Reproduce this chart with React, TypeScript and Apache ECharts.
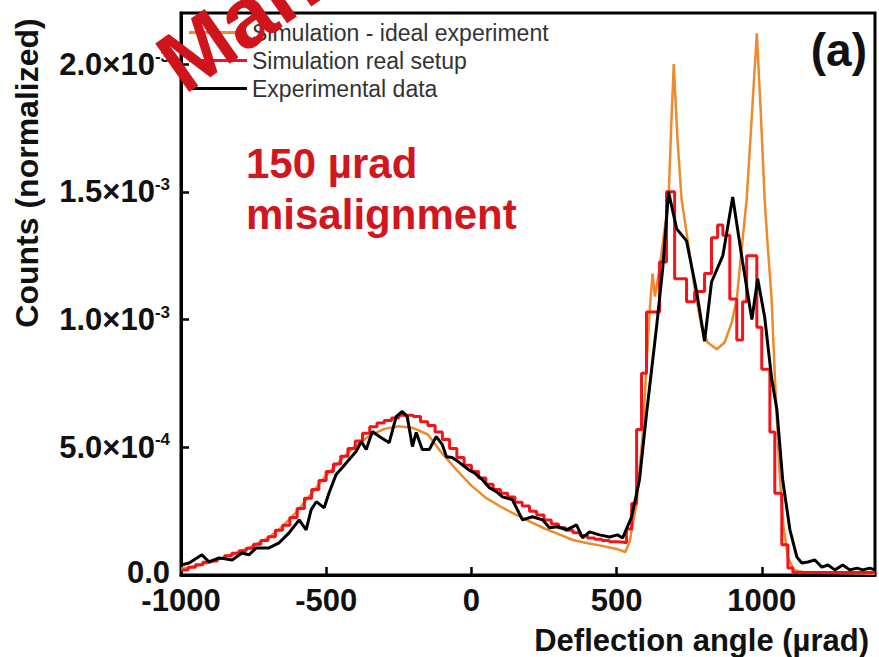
import React, { useEffect, useRef } from 'react';
import * as echarts from 'echarts';

const FONT = '"Liberation Sans", Arial, Helvetica, sans-serif';
const Y_UNIT = 1e-4;

const seriesNames = ['Simulation - ideal experiment', 'Simulation real setup', 'Experimental data'];
const seriesColors = ['#ee8a2c', '#f2141a', '#000000'];

const xTickValues = [-1000, -500, 0, 500, 1000];
const yTickValues = [0, 5e-4, 1e-3, 1.5e-3, 2e-3];
const yTickMantissa = ['0.0', '5.0', '1.0', '1.5', '2.0'];
const yTickExponent = ['', '-4', '-3', '-3', '-3'];

// [deflection angle (µrad), counts in units of 1e-4]
const idealCurve: number[][] = [
  [-1000, 0.25], [-950, 0.35], [-900, 0.5], [-850, 0.7], [-800, 0.9], [-750, 1.15], [-700, 1.45],
  [-650, 1.9], [-600, 2.5], [-550, 3.2], [-500, 3.9], [-450, 4.5], [-400, 5.05], [-350, 5.45],
  [-300, 5.72], [-250, 5.82], [-200, 5.75], [-150, 5.5], [-100, 4.75], [-50, 4.1], [0, 3.5],
  [50, 3.02], [100, 2.68], [150, 2.38], [200, 2.1], [250, 1.83], [300, 1.6], [350, 1.37],
  [400, 1.24], [450, 1.14], [500, 1.02], [530, 0.9], [545, 1.3], [569, 2.8], [590, 5.5],
  [603, 8.2], [615, 10.5], [624, 11.8], [632, 10.9], [648, 12.0], [665, 13.5], [679, 14.7],
  [688, 17.5], [697, 20.0], [710, 17.0], [724, 14.7], [741, 13.4], [769, 11.2], [793, 9.7],
  [814, 9.1], [845, 8.84], [872, 9.1], [897, 9.9], [914, 10.8], [931, 12.8], [948, 14.7],
  [966, 18.0], [983, 21.2], [997, 18.0], [1010, 14.7], [1021, 12.8], [1034, 10.8], [1045, 7.8],
  [1060, 4.2], [1075, 1.9], [1090, 0.7], [1110, 0.2], [1150, 0.1], [1390, 0.05],
];

const realSetupHist: number[][] = [
  [-1000, 0.2], [-975, 0.3], [-950, 0.4], [-925, 0.5], [-900, 0.55], [-875, 0.65], [-850, 0.75],
  [-825, 0.85], [-800, 0.95], [-775, 1.05], [-750, 1.2], [-725, 1.35], [-700, 1.5], [-675, 1.75],
  [-650, 1.95], [-625, 2.25], [-600, 2.6], [-575, 3.0], [-550, 3.35], [-525, 3.7], [-500, 4.05],
  [-475, 4.35], [-450, 4.65], [-425, 4.95], [-400, 5.25], [-375, 5.55], [-350, 5.8], [-325, 5.95],
  [-300, 6.05], [-275, 6.15], [-250, 6.25], [-225, 6.25], [-200, 6.2], [-175, 6.0], [-150, 5.85],
  [-125, 5.6], [-100, 5.3], [-75, 4.95], [-50, 4.6], [-25, 4.3], [0, 4.05], [25, 3.8], [50, 3.55],
  [75, 3.35], [100, 3.2], [125, 3.05], [150, 2.85], [175, 2.7], [200, 2.5], [225, 2.35],
  [250, 2.15], [275, 2.0], [300, 1.85], [325, 1.75], [350, 1.65], [375, 1.55], [400, 1.45],
  [425, 1.4], [450, 1.35], [475, 1.3], [500, 1.28], [525, 1.26], [534, 1.8], [552, 2.8],
  [569, 5.7], [586, 7.9], [603, 10.3], [648, 12.25], [672, 15.0], [700, 11.6], [741, 10.7],
  [769, 11.1], [803, 11.8], [827, 13.2], [848, 13.7], [866, 13.3], [890, 10.8], [914, 9.2],
  [934, 10.7], [948, 12.5], [983, 9.7], [1000, 8.05], [1028, 5.6], [1045, 3.2], [1069, 1.18],
  [1090, 0.27], [1107, 0.1], [1390, 0.1],
];

const experimentalData: number[][] = [
  [-1000, 0.39], [-972, 0.47], [-928, 0.79], [-903, 0.51], [-869, 0.67], [-824, 0.59], [-790, 0.86],
  [-766, 0.79], [-741, 1.06], [-697, 1.06], [-662, 1.26], [-628, 1.65], [-593, 2.16], [-569, 1.77],
  [-552, 2.55], [-534, 2.87], [-507, 2.63], [-490, 3.22], [-466, 3.93], [-445, 4.2], [-421, 4.52],
  [-397, 4.83], [-379, 5.22], [-362, 4.91], [-341, 5.62], [-317, 5.42], [-283, 5.18], [-259, 6.2],
  [-238, 6.4], [-221, 6.2], [-203, 5.03], [-190, 5.58], [-169, 4.91], [-145, 4.91], [-121, 5.42],
  [-100, 5.1], [-86, 4.63], [-66, 4.6], [-41, 4.4], [-7, 4.1], [10, 4.0], [38, 3.73], [62, 3.42],
  [86, 3.26], [107, 3.06], [141, 2.95], [176, 2.16], [210, 2.28], [245, 2.16], [269, 1.85],
  [297, 1.89], [328, 1.77], [362, 1.96], [383, 1.45], [407, 1.69], [441, 1.57], [476, 1.49],
  [503, 1.57], [521, 1.45], [552, 2.28], [579, 3.73], [603, 6.3], [638, 9.74], [659, 12.0],
  [679, 15.0], [707, 13.55], [741, 13.08], [776, 11.08], [803, 9.15], [827, 11.47], [866, 12.5],
  [900, 14.8], [934, 12.25], [966, 10.0], [986, 11.6], [1010, 10.1], [1034, 7.7], [1052, 6.48],
  [1072, 3.73], [1097, 1.77], [1121, 0.7], [1138, 0.47], [1159, 0.51], [1183, 0.59], [1207, 0.31],
  [1228, 0.39], [1252, 0.2], [1279, 0.39], [1303, 0.2], [1328, 0.27], [1348, 0.2], [1372, 0.27],
  [1390, 0.2],
];

const toCounts = (arr: number[][]) => arr.map(([x, y]) => [x, y * Y_UNIT]);

export default function App() {
  const ref = useRef<HTMLDivElement>(null);
  useEffect(() => {
    if (!ref.current) return;
    const chart = echarts.init(ref.current, null, { renderer: 'svg' });
    const option: any = {
      animation: false,
      backgroundColor: '#ffffff',
      textStyle: { fontFamily: FONT },
      grid: {
        left: 181, right: 4, top: 13, bottom: 82,
        show: true, borderColor: '#000', borderWidth: 3, backgroundColor: 'transparent',
      },
      legend: {
        orient: 'vertical', left: 184, top: 16, itemWidth: 58, itemHeight: 3, itemGap: 5,
        icon: 'rect',
        data: seriesNames,
        textStyle: { fontSize: 23, color: '#333', fontFamily: FONT },
      },
      xAxis: {
        type: 'value', min: -1000, max: 1390, interval: 500,
        axisLine: { onZero: false, lineStyle: { color: '#000', width: 3 } },
        axisTick: { inside: true, length: 8, lineStyle: { color: '#000', width: 2.5 } },
        splitLine: { show: false },
        axisLabel: {
          margin: 10, fontSize: 31, fontWeight: 'bold', color: '#111', fontFamily: FONT,
          showMaxLabel: false,
          formatter: (v: number) => (xTickValues.includes(v) ? String(v) : ''),
        },
      },
      yAxis: {
        type: 'value', min: 0, max: 2.2e-3, interval: 5e-4,
        axisLine: { show: true, onZero: false, lineStyle: { color: '#000', width: 3 } },
        axisTick: { show: true, inside: true, length: 8, lineStyle: { color: '#000', width: 2.5 } },
        splitLine: { show: false },
        axisLabel: {
          margin: 11, showMaxLabel: false,
          formatter: (v: number) => {
            const i = yTickValues.findIndex((t) => Math.abs(t - v) < 1e-9);
            if (i < 0) return '';
            return yTickExponent[i]
              ? `{m|${yTickMantissa[i]}×10}{e|${yTickExponent[i]}}`
              : `{z|${yTickMantissa[i]}}`;
          },
          rich: {
            m: { fontSize: 31, fontWeight: 'bold', color: '#111', fontFamily: FONT },
            z: { fontSize: 31, fontWeight: 'bold', color: '#111', fontFamily: FONT, padding: [0, 0, 5, 0] },
            e: { fontSize: 17, fontWeight: 'bold', color: '#111', fontFamily: FONT, verticalAlign: 'top', padding: [0, 0, 15, 0] },
          },
        },
      },
      series: [
        {
          name: seriesNames[0], type: 'line', data: toCounts(idealCurve), showSymbol: false, symbol: 'none',
          lineStyle: { color: seriesColors[0], width: 2.5 }, itemStyle: { color: seriesColors[0] }, z: 2,
        },
        {
          name: seriesNames[1], type: 'line', step: 'end', data: toCounts(realSetupHist), showSymbol: false, symbol: 'none',
          lineStyle: { color: seriesColors[1], width: 3 }, itemStyle: { color: seriesColors[1] }, z: 3,
        },
        {
          name: seriesNames[2], type: 'line', data: toCounts(experimentalData), showSymbol: false, symbol: 'none',
          lineStyle: { color: seriesColors[2], width: 3 }, itemStyle: { color: seriesColors[2] }, z: 4,
        },
      ],
      graphic: [
        {
          type: 'text', x: 27, y: 173, rotation: Math.PI / 2,
          style: { text: 'Counts (normalized)', font: `bold 32px ${FONT}`, fill: '#111', align: 'center', verticalAlign: 'middle' },
        },
        {
          type: 'text', x: 869, y: 640,
          style: { text: 'Deflection angle (µrad)', font: `bold 31px ${FONT}`, fill: '#111', align: 'right', verticalAlign: 'middle' },
        },
        {
          type: 'text', x: 867, y: 50,
          style: { text: '(a)', font: `bold 46px ${FONT}`, fill: '#111', align: 'right', verticalAlign: 'middle' },
        },
        {
          type: 'text', x: 246, y: 163,
          style: { text: '150 µrad', font: `bold 42px ${FONT}`, fill: '#d2161e', align: 'left', verticalAlign: 'middle' },
        },
        {
          type: 'text', x: 246, y: 214,
          style: { text: 'misalignment', font: `bold 42px ${FONT}`, fill: '#d2161e', align: 'left', verticalAlign: 'middle' },
        },
        {
          type: 'text', x: 192, y: 106, rotation: (35 * Math.PI) / 180, z: 100,
          style: { text: 'Manuscript', font: `bold 86px ${FONT}`, fill: '#d0141c', align: 'left', verticalAlign: 'bottom' },
        },
      ],
    };
    chart.setOption(option);
    return () => chart.dispose();
  }, []);
  return <div ref={ref} style={{ position: 'absolute', left: 0, top: 0, width: 879, height: 657 }} />;
}
